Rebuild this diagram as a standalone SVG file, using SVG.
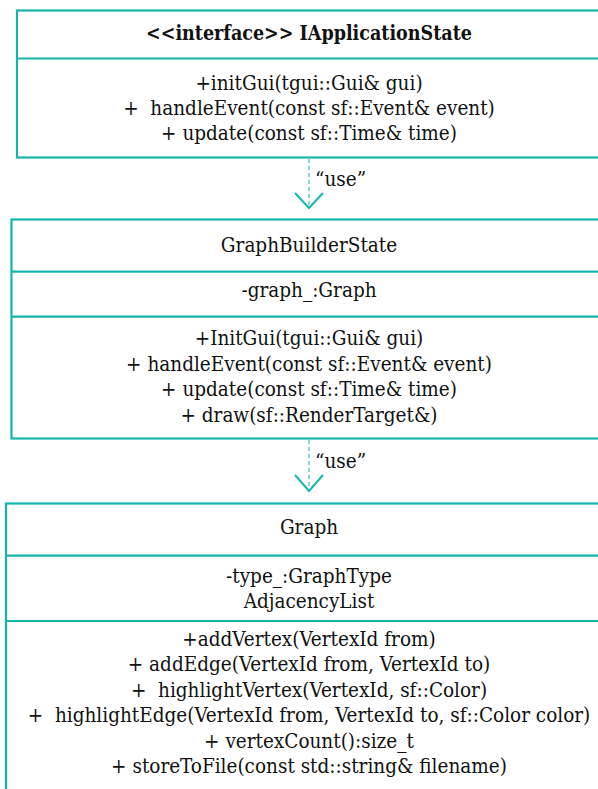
<svg xmlns="http://www.w3.org/2000/svg" width="598" height="789" viewBox="0 0 598 789">
<style>
.box{fill:#fff;stroke:#14b5ac;stroke-width:2.2}
.div{stroke:#14b5ac;stroke-width:2.2}
text{font-family:"DejaVu Serif Condensed","DejaVu Serif",serif;font-stretch:condensed;font-size:20.5px;fill:#111;text-anchor:middle;white-space:pre}
.b{font-weight:bold;font-size:19.5px}
.lbl{text-anchor:start}
.dash{stroke:#62d0ca;stroke-width:1.6;stroke-dasharray:4 3;fill:none}
.head{stroke:#14b5ac;stroke-width:2;fill:none}
</style>
<rect width="598" height="789" fill="#fff"/>
<g id="IApplicationState">
<rect class="box" x="17" y="10.5" width="590" height="147"/>
<line class="div" x1="17" y1="58.5" x2="607" y2="58.5"/>
<text class="b" x="309" y="40">&lt;&lt;interface&gt;&gt; IApplicationState</text>
<text x="309" y="89.5">+initGui(tgui::Gui&amp; gui)</text>
<text x="309" y="115" xml:space="preserve">+  handleEvent(const sf::Event&amp; event)</text>
<text x="309" y="140">+ update(const sf::Time&amp; time)</text>
</g>
<g id="GraphBuilderState">
<rect class="box" x="11.5" y="219.5" width="600" height="219"/>
<line class="div" x1="11.5" y1="271.7" x2="611.5" y2="271.7"/>
<line class="div" x1="11.5" y1="316.7" x2="611.5" y2="316.7"/>
<text x="309" y="251.5">GraphBuilderState</text>
<text x="309" y="296.5">-graph_:Graph</text>
<text x="309" y="345">+InitGui(tgui::Gui&amp; gui)</text>
<text x="309" y="370.5">+ handleEvent(const sf::Event&amp; event)</text>
<text x="309" y="396">+ update(const sf::Time&amp; time)</text>
<text x="309" y="421.5">+ draw(sf::RenderTarget&amp;)</text>
</g>
<g id="Graph">
<rect class="box" x="6" y="503.5" width="610" height="300"/>
<line class="div" x1="6" y1="555.7" x2="616" y2="555.7"/>
<line class="div" x1="6" y1="621" x2="616" y2="621"/>
<text x="309" y="534">Graph</text>
<text x="309" y="583">-type_:GraphType</text>
<text x="309" y="607.5">AdjacencyList</text>
<text x="309" y="645.5">+addVertex(VertexId from)</text>
<text x="309" y="671">+ addEdge(VertexId from, VertexId to)</text>
<text x="309" y="696.5" xml:space="preserve">+  highlightVertex(VertexId, sf::Color)</text>
<text x="309" y="722" xml:space="preserve">+  highlightEdge(VertexId from, VertexId to, sf::Color color)</text>
<text x="309" y="747.5">+ vertexCount():size_t</text>
<text x="309" y="773">+ storeToFile(const std::string&amp; filename)</text>
</g>
<g id="connectors">
<line class="dash" x1="309" y1="159" x2="309" y2="207"/>
<polyline class="head" points="295,193 309,208 323,193"/>
<text class="lbl" x="315" y="186">“use”</text>
<line class="dash" x1="309" y1="440" x2="309" y2="490"/>
<polyline class="head" points="295,475 309,491 323,475"/>
<text class="lbl" x="315" y="468">“use”</text>
</g>
</svg>
